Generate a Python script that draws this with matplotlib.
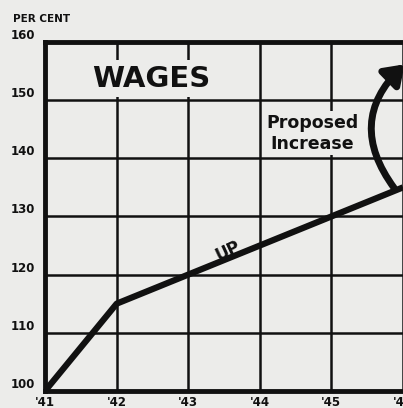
import matplotlib
matplotlib.use("Agg")
import matplotlib.pyplot as plt
from matplotlib.patches import FancyArrowPatch

years = [41, 42, 43, 44, 45, 46]
year_labels = ["'41", "'42", "'43", "'44", "'45", "'46"]
wages = [100, 115, 120, 125, 130, 135]
y_ticks = [100, 110, 120, 130, 140, 150, 160]

bg = '#ececea'
ink = '#111111'

fig = plt.figure(figsize=(4.03, 4.08), dpi=100, facecolor=bg)
ax = fig.add_axes([0.112, 0.042, 0.888, 0.855], facecolor=bg)

ax.set_xlim(41, 45.98)
ax.set_ylim(100, 160)
ax.set_xticks(years)
ax.set_yticks(y_ticks)

for x in years[1:]:
    ax.axvline(x, color=ink, lw=1.8, zorder=1)
for y in y_ticks[1:-1]:
    ax.axhline(y, color=ink, lw=1.8, zorder=1)

for s in ['left', 'bottom', 'top']:
    ax.spines[s].set_linewidth(3.5)
    ax.spines[s].set_color(ink)
ax.spines['right'].set_visible(False)

ax.tick_params(axis='y', length=0, pad=7)
ax.tick_params(axis='x', length=0, pad=4)
ax.set_xticklabels(year_labels, fontsize=8.5, fontweight='bold', color=ink)
ax.set_yticklabels([str(v) for v in y_ticks], fontsize=8.5, fontweight='bold', color=ink,
                   va='bottom')

ax.plot(years, wages, color=ink, lw=4.5, solid_capstyle='butt', zorder=3)

ax.text(42.48, 153.7, 'WAGES', fontsize=21, fontweight='bold', color=ink,
        ha='center', va='center', zorder=4,
        bbox=dict(boxstyle='square,pad=0.15', fc=bg, ec='none'))
ax.text(44.73, 144.3, 'Proposed\nIncrease', fontsize=12.5, fontweight='bold', color=ink,
        ha='center', va='center', linespacing=1.2, zorder=4,
        bbox=dict(boxstyle='square,pad=0.15', fc=bg, ec='none'))
ax.text(43.55, 124.0, 'UP', fontsize=12, fontweight='bold', color=ink,
        ha='center', va='center', rotation=25, zorder=4)

arrow = FancyArrowPatch((45.9, 134.5), (46.05, 156.5),
                        connectionstyle='arc3,rad=-0.45',
                        arrowstyle='-|>,head_length=0.5,head_width=0.35',
                        mutation_scale=22, lw=5, color=ink, zorder=5, clip_on=False)
ax.add_patch(arrow)

fig.text(0.033, 0.945, 'PER CENT', fontsize=7.5, fontweight='bold', color=ink)

fig.savefig('out.png', dpi=100, facecolor=bg)
